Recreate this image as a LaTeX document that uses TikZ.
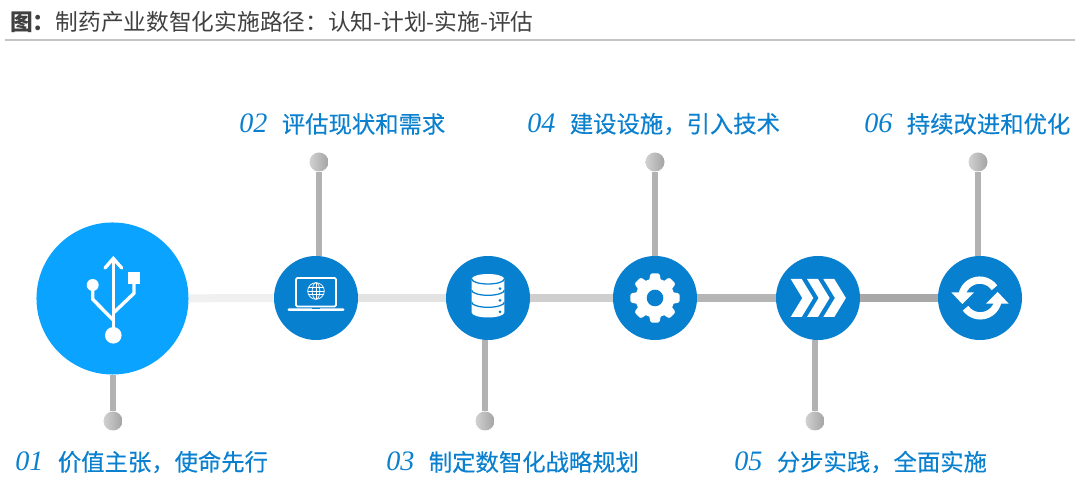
\documentclass[tikz,border=0pt]{standalone}
\usepackage{fontspec}
\setmainfont{Noto Sans CJK SC}
\newfontfamily\numfont{Liberation Serif}
\newfontfamily\labelfont[FakeBold=0.25]{Noto Sans CJK SC}
\usetikzlibrary{calc}
\definecolor{bigblue}{HTML}{0AA3FF}
\definecolor{stepblue}{HTML}{0880D0}
\definecolor{labelblue}{HTML}{0A80CF}
\definecolor{titlegrey}{HTML}{404040}
\definecolor{rulegrey}{HTML}{C4C4C4}
\definecolor{stemgrey}{HTML}{B2B2B2}
\newcommand{\labeltext}[2]{{\numfont\itshape\fontsize{20}{24}\selectfont #1}\hspace{0.62em}{\labelfont #2}}
\newcommand{\drawusb}[2]{% {x}{y}
  \begin{scope}[shift={(#1,#2)},white,line width=2.4pt]
    % Trunk and arrow head
    \fill (1.3,-37.3) circle (8.3);
    \draw (1.3,-37.3) -- (1.3,38);
    \draw[line cap=round] (-7,30) -- (1.3,39.5) -- (9.7,30);
    % Left branch
    \fill (-19.3,13) circle (6);
    \draw (-19.3,13) -- (-19.3,-1.3) -- (1.3,-22);
    % Right branch
    \fill (15.7,26.3) rectangle (28,14);
    \draw (22,14) -- (22,4.7) -- (1.3,-15);
  \end{scope}
}
\newcommand{\drawlaptop}[2]{% {x}{y}
  \begin{scope}[shift={(#1,#2)},white]
    % Screen
    \draw[line width=1.2pt,rounded corners=1pt] (-20,20) rectangle (20,-8.5);
    % Base
    \fill[rounded corners=1pt] (-28.5,-10.3) rectangle (28.5,-13);
    \fill[stepblue] (-4,-10.3) rectangle (4,-11.3);
    % Globe
    \begin{scope}[line width=0.5pt]
      \draw (0,7) circle (8.3);
      \draw (0,7) ellipse (3.8 and 8.3);
      \draw (0,-1.3) -- (0,15.3);
      \draw (-8.3,7) -- (8.3,7);
      \draw (-7.3,10.5) -- (7.3,10.5);
      \draw (-7.3,3.5) -- (7.3,3.5);
    \end{scope}
  \end{scope}
}
\newcommand{\drawstack}[2]{% {x}{y}
  \begin{scope}[shift={(#1,#2)}]
    % Body
    \fill[white] (-16.3,19) -- (-16.3,-14.5) arc[start angle=180,end angle=360,x radius=16.3,y radius=5]
      -- (16.3,19) arc[start angle=0,end angle=180,x radius=16.3,y radius=5] -- cycle;
    % Layers
    \foreach \layery in {19,7.7,-4.3}
      \draw[stepblue,line width=0.9pt] (-16.3,\layery) arc[start angle=180,end angle=360,x radius=16.3,y radius=5];
    \foreach \doty in {9.3,-2.3,-14}
      \fill[stepblue] (12,\doty) circle (1.5);
  \end{scope}
}
\newcommand{\drawgear}[2]{% {x}{y}
  \begin{scope}[shift={(#1,#2)}]
    \fill[white] (0,0) circle (19.5);
    \foreach \gearangle in {0,45,...,315}
      \fill[white,rotate=\gearangle,rounded corners=1.5pt] (14,-6.5) -- (24.7,-4.5) -- (24.7,4.5) -- (14,6.5) -- cycle;
    \fill[stepblue] (0,0) circle (8.3);
  \end{scope}
}
\newcommand{\drawchevrons}[2]{% {x}{y}
  \begin{scope}[shift={(#1,#2)}]
    \foreach \chevx in {0,16.3,32.6}
      \fill[white,xshift=\chevx*0.025cm] (-27.3,19) -- (-16.3,19) -- (-4.7,0) -- (-16.3,-19) -- (-27.3,-19) -- (-15.7,0) -- cycle;
  \end{scope}
}
\newcommand{\drawrefresh}[2]{% {x}{y}
  \begin{scope}[shift={(#1,#2)}]
    \foreach \turn in {0,180}{
      \draw[white,line width=5.2pt,rotate=\turn] (-18,3) arc[start angle=170,end angle=35,radius=18];
      \fill[white,rotate=\turn] (-28.7,5.7) -- (-6,5.7) -- (-17.7,-6) -- cycle;
    }
  \end{scope}
}
\tikzset{
  stepbig/.style={circle,fill=bigblue,minimum size=3.8cm,inner sep=0pt},
  stepsmall/.style={circle,fill=stepblue,minimum size=2.1cm,inner sep=0pt},
  pindot/.style={circle,left color=black!18,right color=black!36,minimum size=0.475cm,inner sep=0pt},
  stemline/.style={stemgrey,line width=0.15cm},
  bandline/.style={line width=0.2cm},
  steplabel/.style={anchor=west,labelblue,inner sep=0pt,font=\fontsize{16.6}{20}\selectfont}
}
\begin{document}
\begin{tikzpicture}[x=0.025cm,y=0.025cm]
  \useasboundingbox (0,0) rectangle (1080,484);
  % Title
  \node[anchor=west,titlegrey,inner sep=0pt,font=\fontsize{16.15}{20}\selectfont] (title) at (10,462) {{\bfseries 图：}制药产业数智化实施路径：认知-计划-实施-评估};
  \coordinate (ruleleft) at (5,444);
  \coordinate (ruleright) at (1075,444);
  \draw[rulegrey,line width=0.04cm] (ruleleft) -- (ruleright);
  % Steps
  \node[stepbig] (step1) at (112.5,185.5) {};
  \node[stepsmall] (step2) at (316,186) {};
  \node[stepsmall] (step3) at (488,186) {};
  \node[stepsmall] (step4) at (655,186) {};
  \node[stepsmall] (step5) at (818,186) {};
  \node[stepsmall] (step6) at (980,186) {};
  % Band between the steps
  \draw[bandline,black!6] (step1) -- (step2);
  \draw[bandline,black!11] (step2) -- (step3);
  \draw[bandline,black!19] (step3) -- (step4);
  \draw[bandline,black!29] (step4) -- (step5);
  \draw[bandline,black!34] (step5) -- (step6);
  % Pins
  \node[pindot] (pin1) at (113,63) {};
  \node[pindot] (pin2) at (319,322) {};
  \node[pindot] (pin3) at (485,63) {};
  \node[pindot] (pin4) at (655,322) {};
  \node[pindot] (pin5) at (815,63) {};
  \node[pindot] (pin6) at (978,322) {};
  \draw[stemline] (pin1) -- (pin1 |- step1.south);
  \draw[stemline] (pin2) -- (pin2 |- step2.north);
  \draw[stemline] (pin3) -- (pin3 |- step3.south);
  \draw[stemline] (pin4) -- (pin4 |- step4.north);
  \draw[stemline] (pin5) -- (pin5 |- step5.south);
  \draw[stemline] (pin6) -- (pin6 |- step6.north);
  % Icons
  \drawusb{112}{186}
  \drawlaptop{316}{186}
  \drawstack{488}{186}
  \drawgear{655}{186}
  \drawchevrons{818}{186}
  \drawrefresh{980}{186}
  % Labels
  \node[steplabel] (label1) at (15,22) {\labeltext{01}{价值主张，使命先行}};
  \node[steplabel] (label2) at (239,360) {\labeltext{02}{评估现状和需求}};
  \node[steplabel] (label3) at (386,22) {\labeltext{03}{制定数智化战略规划}};
  \node[steplabel] (label4) at (527,360) {\labeltext{04}{建设设施，引入技术}};
  \node[steplabel] (label5) at (734,22) {\labeltext{05}{分步实践，全面实施}};
  \node[steplabel] (label6) at (864,360) {\labeltext{06}{持续改进和优化}};
\end{tikzpicture}
\end{document}
